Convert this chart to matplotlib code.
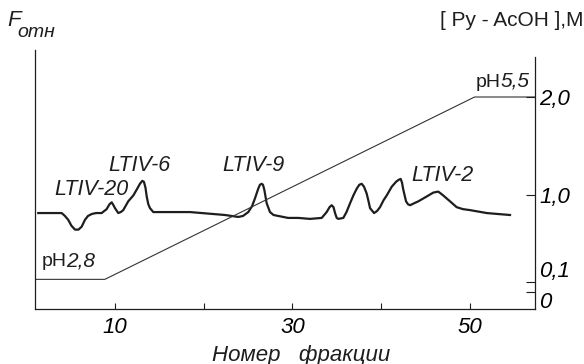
import matplotlib
matplotlib.use('Agg')
import matplotlib.pyplot as plt

plt.rcParams['font.family'] = ['Liberation Sans', 'DejaVu Sans']

# Номер фракции / относительная флуоресценция
frac = [1.41, 2.72, 4.04, 4.41, 4.78, 5.14, 5.54, 5.93, 6.29, 6.66,
        7.00, 7.42, 7.90, 8.54, 9.10, 9.42, 9.67, 9.87, 10.04, 10.41,
        10.69, 10.97, 11.53, 12.10, 12.48, 12.85, 13.11, 13.30, 13.47, 13.61,
        13.79, 13.98, 14.35, 15.29, 18.48, 22.42, 23.91, 24.44, 25.04, 25.46,
        25.79, 26.16, 26.35, 26.55, 26.69, 26.84, 27.11, 27.48, 27.88, 28.42,
        29.51, 30.67, 31.98, 33.30, 33.86, 34.18, 34.42, 34.63, 34.80, 34.99,
        35.17, 35.73, 36.09, 36.49, 36.86, 37.24, 37.53, 37.80, 38.06, 38.36,
        38.57, 38.74, 39.19, 39.52, 39.86, 40.25, 40.61, 41.18, 41.66, 41.94,
        42.19, 42.34, 42.48, 42.79, 43.01, 43.24, 43.69, 44.17, 45.12, 45.86,
        46.42, 46.98, 47.74, 48.49, 49.20, 49.99, 51.87, 53.14, 54.49]
f_rel = [0.81, 0.81, 0.81, 0.78, 0.74, 0.68, 0.64, 0.64, 0.67, 0.74,
         0.78, 0.80, 0.81, 0.81, 0.85, 0.90, 0.92, 0.89, 0.86, 0.81,
         0.82, 0.84, 0.93, 0.99, 1.05, 1.11, 1.14, 1.13, 1.07, 0.98,
         0.90, 0.86, 0.82, 0.82, 0.82, 0.79, 0.77, 0.78, 0.82, 0.88,
         0.96, 1.06, 1.10, 1.11, 1.10, 1.05, 0.91, 0.82, 0.79, 0.78,
         0.76, 0.76, 0.75, 0.76, 0.82, 0.87, 0.89, 0.87, 0.81, 0.76,
         0.75, 0.76, 0.82, 0.91, 0.99, 1.06, 1.10, 1.11, 1.08, 1.01,
         0.93, 0.86, 0.81, 0.83, 0.87, 0.94, 0.99, 1.08, 1.13, 1.15,
         1.16, 1.12, 1.05, 0.93, 0.90, 0.89, 0.91, 0.93, 0.98, 1.02,
         1.03, 0.99, 0.93, 0.87, 0.85, 0.84, 0.81, 0.80, 0.79]

# градиент Py-AcOH, M
grad_frac = [1.04, 8.9, 50.5, 57.3]
grad_conc = [0.13, 0.13, 2.0, 2.0]

x_ticks = [10, 20, 30, 40, 50]
x_labels = ['10', '', '30', '', '50']
c_ticks = [0, 0.1, 1.0, 2.0]
c_labels = ['0', '0,1', '1,0', '2,0']

peaks = ['LTIV-20', 'LTIV-6', 'LTIV-9', 'LTIV-2']
peak_pos = [(7.34, 1.05), (12.85, 1.30), (25.57, 1.30), (46.84, 1.19)]

ink = '#1e1e1e'
y_lo, y_hi = -0.174, 2.482
fig = plt.figure(figsize=(5.84, 3.64), dpi=100)
ax = fig.add_axes([35 / 584, 55 / 364, 500 / 584, 259 / 364])
ax.set_xlim(1.04, 57.3)
ax.set_ylim(y_lo, y_hi)

ax.plot(frac, f_rel, color=ink, lw=1.6, solid_joinstyle='round')
ax.plot(grad_frac, grad_conc, color='#333333', lw=0.8)

for s in ['top', 'right']:
    ax.spines[s].set_visible(False)
for s in ['left', 'bottom']:
    ax.spines[s].set_color(ink)
    ax.spines[s].set_linewidth(0.9)
ax.set_yticks([])
ax.set_xticks(x_ticks)
ax.set_xticklabels(x_labels, fontstyle='italic', fontsize=16)
ax.tick_params(axis='x', direction='in', length=4, width=0.8, color=ink, pad=6)

ax2 = ax.twinx()
ax2.set_ylim(y_lo, y_hi)
for s in ['top', 'left', 'bottom']:
    ax2.spines[s].set_visible(False)
ax2.spines['right'].set_bounds(y_lo, 2.41)
ax2.spines['right'].set_color(ink)
ax2.spines['right'].set_linewidth(0.9)
ax2.set_yticks(c_ticks)
ax2.set_yticklabels(c_labels, fontstyle='italic', fontsize=16)
ax2.tick_params(axis='y', direction='in', length=6.5, width=0.8, color=ink, pad=3)
lbls = ax2.get_yticklabels()
lbls[0].set_va('top')
lbls[1].set_va('bottom')

for name, (px, py) in zip(peaks, peak_pos):
    ax.text(px, py, name, ha='center', va='center', fontstyle='italic', fontsize=15.5, color=ink)

t = ax.text(1.75, 0.31, 'pH', ha='left', va='center', fontsize=14, color=ink)
ax.annotate('2,8', xy=(1, 0), xycoords=t, va='bottom', fontstyle='italic', fontsize=15, color=ink)
t = ax.text(50.6, 2.15, 'pH', ha='left', va='center', fontsize=14, color=ink)
ax.annotate('5,5', xy=(1, 0), xycoords=t, va='bottom', fontstyle='italic', fontsize=15, color=ink)

fig.text(14 / 584, 1 - 20 / 364, 'F', ha='center', fontstyle='italic', fontsize=16, va='center', color=ink)
fig.text(17 / 584, 1 - 32.5 / 364, 'отн', fontstyle='italic', fontsize=14, va='center', color=ink)
fig.text(584 / 584, 1 - 20 / 364, '[ Py - AcOH ],M', ha='right', va='center', fontsize=15, color=ink)
fig.text(301 / 584, 1 - 355 / 364, 'Номер   фракции', ha='center', va='center',
         fontstyle='italic', fontsize=16, color=ink)

fig.savefig('out.png', dpi=100, facecolor='white')
